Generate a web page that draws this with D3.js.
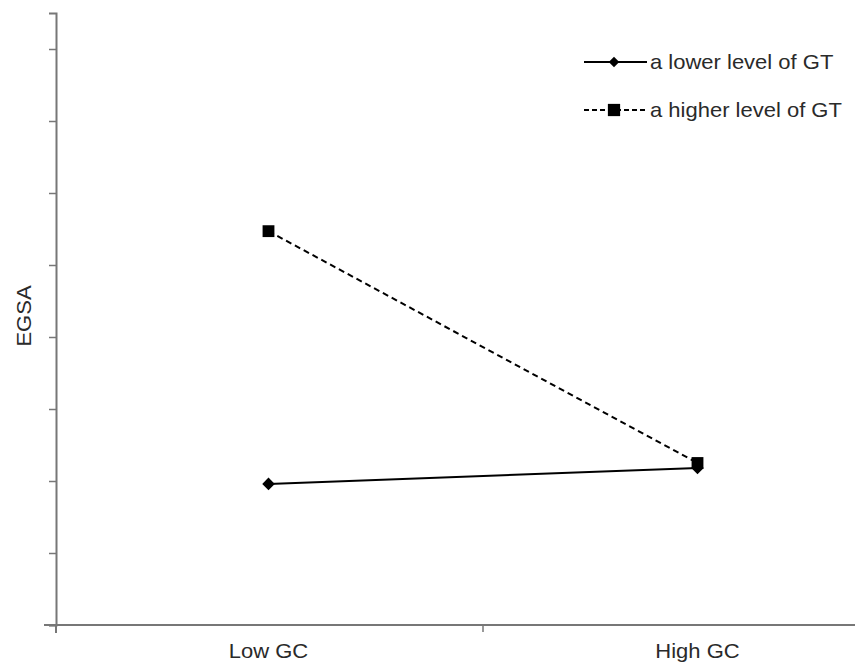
<!DOCTYPE html>
<html>
<head>
<meta charset="utf-8">
<script src="https://cdn.jsdelivr.net/npm/d3@7"></script>
<style>
  html, body { margin: 0; padding: 0; background: #fff; }
  svg { display: block; font-family: "Liberation Sans", Arial, sans-serif; }
</style>
</head>
<body>
<div id="chart"></div>
<script>
const categories = ["Low GC", "High GC"]
const lowerGT = [1.96, 2.18]
const higherGT = [5.47, 2.25]
const yTicks = [0, 1, 2, 3, 4, 5, 6, 7, 8]
const seriesNames = ["a lower level of GT", "a higher level of GT"]

const width = 855
const height = 667
const textColor = "#2a2a2a"
const stretch = 1.1

const svg = d3.select("#chart")
  .append("svg")
  .attr("width", width)
  .attr("height", height)

const x = d3.scaleBand()
  .domain(categories)
  .range([54, 912])

const y = d3.scaleLinear()
  .domain([0, 8.5])
  .range([625, 13])

const axisColor = "#777"

// y axis
const yAxis = svg.append("g")
  .attr("transform", "translate(56,0)")
  .call(d3.axisLeft(y).tickValues(yTicks).tickSize(7).tickFormat(""))
yAxis.select(".domain").attr("stroke", axisColor).attr("stroke-width", 2)
yAxis.selectAll(".tick line").attr("stroke", axisColor).attr("stroke-width", 1.5)

// x axis
svg.append("line")
  .attr("x1", 44).attr("x2", width)
  .attr("y1", y(0)).attr("y2", y(0))
  .attr("stroke", axisColor).attr("stroke-width", 2)
svg.append("line")
  .attr("x1", 56).attr("x2", 56)
  .attr("y1", y(0)).attr("y2", y(0) + 8)
  .attr("stroke", axisColor).attr("stroke-width", 2)
svg.append("line")
  .attr("x1", x(categories[1])).attr("x2", x(categories[1]))
  .attr("y1", y(0)).attr("y2", y(0) + 7)
  .attr("stroke", axisColor).attr("stroke-width", 1.5)

svg.selectAll(".xlabel")
  .data(categories)
  .enter()
  .append("text")
  .attr("class", "xlabel")
  .attr("transform", (d) => `translate(${x(d) + x.bandwidth() / 2},658) scale(${stretch},1)`)
  .attr("text-anchor", "middle")
  .attr("font-size", "20px")
  .attr("fill", textColor)
  .text((d) => d)

svg.append("text")
  .attr("transform", `translate(31,316) rotate(-90) scale(${stretch},1)`)
  .attr("text-anchor", "middle")
  .attr("font-size", "20px")
  .attr("fill", textColor)
  .text("EGSA")

const cx = (i) => x(categories[i]) + x.bandwidth() / 2
const line = d3.line()
  .x((d, i) => cx(i))
  .y((d) => y(d))

svg.append("path")
  .attr("d", line(lowerGT))
  .attr("fill", "none")
  .attr("stroke", "#000")
  .attr("stroke-width", 2)

svg.append("path")
  .attr("d", line(higherGT))
  .attr("fill", "none")
  .attr("stroke", "#000")
  .attr("stroke-width", 2)
  .attr("stroke-dasharray", "6,4")

const diamond = d3.symbol().type(d3.symbolDiamond2).size(100)
const square = d3.symbol().type(d3.symbolSquare).size(140)

svg.selectAll(".pt-low")
  .data(lowerGT)
  .enter()
  .append("path")
  .attr("d", diamond)
  .attr("transform", (d, i) => `translate(${cx(i)},${y(d)})`)
  .attr("fill", "#000")

svg.selectAll(".pt-high")
  .data(higherGT)
  .enter()
  .append("path")
  .attr("d", square)
  .attr("transform", (d, i) => `translate(${cx(i)},${y(d)})`)
  .attr("fill", "#000")

// legend
const legend = svg.append("g")
const legendY = [62, 110]
seriesNames.forEach((name, i) => {
  const g = legend.append("g").attr("transform", `translate(0,${legendY[i]})`)
  g.append("line")
    .attr("x1", 584).attr("x2", 647)
    .attr("stroke", "#000").attr("stroke-width", 2)
    .attr("stroke-dasharray", i === 1 ? "5,3" : null)
  g.append("path")
    .attr("d", i === 0 ? d3.symbol().type(d3.symbolDiamond2).size(70) : d3.symbol().type(d3.symbolSquare).size(150))
    .attr("transform", "translate(614,0)")
    .attr("fill", "#000")
  g.append("text")
    .attr("transform", `translate(650,7) scale(${stretch},1)`)
    .attr("font-size", "20px")
    .attr("fill", textColor)
    .text(name)
})
</script>
</body>
</html>
